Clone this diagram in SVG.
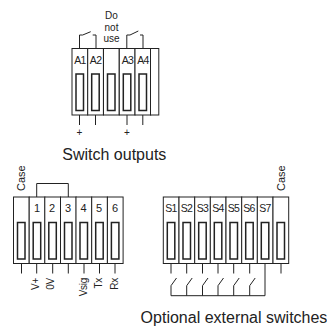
<svg xmlns="http://www.w3.org/2000/svg" width="327" height="328" viewBox="0 0 327 328">
<style>
.b{fill:#fff;stroke:#222;stroke-width:1}
.s{fill:none;stroke:#222;stroke-width:1.5}
.w{fill:none;stroke:#222;stroke-width:1}
text{font-family:"Liberation Sans",Arial,sans-serif;fill:#222;font-size:10px}
.m{text-anchor:middle}
.t{letter-spacing:-.6px;font-size:10.500px}
.n{font-size:11px}
.r{text-anchor:end;letter-spacing:-.3px}
.h{font-size:16px}
</style>
<defs>
<g id="c16"><rect class="b" x="0" y="0" width="15.700" height="66.500"/><rect class="s" x="4" y="25.500" width="7.500" height="36.500"/></g>
</defs>
<g id="connectors">
<path class="w" d="M79.500 115V125M95.500 115V125M127 115V125M142.800 115V125"/>
<path class="w" d="M79.500 48V35H82.700L90.700 31.700M92.700 35H96V48M126.800 48V35H130L138.300 31M140 35H143V48"/>
<path class="w" d="M36.700 197V183.500H68.300V197"/>
<path class="w" d="M21.500 263V273.500M36.700 263V273.500M52.700 263V273.500M68.300 263V273.500M84 263V273.500M99.500 263V273.500M115 263V273.500"/>
<path class="w" d="M171 263V273.500M186.700 263V273.500M202.500 263V273.500M218 263V273.500M233.700 263V273.500M249.700 263V273.500M281 263V273.500"/>
<path class="w" d="M171 295.700V285.700L176.500 278M186.700 295.700V285.700L192.200 278M202.500 295.700V285.700L208 278M218 295.700V285.700L223.500 278M233.700 295.700V285.700L239.200 278M249.700 295.700V285.700L255.200 278M171 295.700H265V263"/>
</g>
<g id="top-block">
<use href="#c16" x="72" y="48.500"/><use href="#c16" x="87.700" y="48.500"/><use href="#c16" x="103.500" y="48.500"/><use href="#c16" x="119.300" y="48.500"/><use href="#c16" x="135" y="48.500"/>
<rect class="b" x="150.500" y="48.500" width="8.300" height="66.500"/>
<text class="m t" x="80" y="64">A1</text><text class="m t" x="95.700" y="64">A2</text><text class="m t" x="127.500" y="64">A3</text><text class="m t" x="143" y="64">A4</text>
<text class="m" x="111.500" y="19">Do</text><text class="m" x="111.500" y="31">not</text><text class="m" x="111.500" y="42">use</text>
<text class="m" x="79.500" y="136">+</text><text class="m" x="126.800" y="136">+</text>
<text class="m h" x="114.300" y="160">Switch outputs</text>
</g>
<g id="left-block">
<use href="#c16" x="13.500" y="197"/><use href="#c16" x="29.200" y="197"/><use href="#c16" x="44.800" y="197"/><use href="#c16" x="60.500" y="197"/><use href="#c16" x="76" y="197"/><use href="#c16" x="91.700" y="197"/><use href="#c16" x="107.400" y="197"/>
<text class="m n" x="37" y="212">1</text><text class="m n" x="52" y="212">2</text><text class="m n" x="68" y="212">3</text><text class="m n" x="83.500" y="212">4</text><text class="m n" x="99" y="212">5</text><text class="m n" x="115" y="212">6</text>
<text class="n" transform="translate(25 191) rotate(-90)">Case</text>
<text class="r" transform="translate(39 278) rotate(-90)">V+</text>
<text class="r" transform="translate(54 278) rotate(-90)">0V</text>
<text class="r" transform="translate(87 278) rotate(-90)">Vsig</text>
<text class="r" transform="translate(102 278) rotate(-90)">Tx</text>
<text class="r" transform="translate(118 278) rotate(-90)">Rx</text>
</g>
<g id="right-block">
<use href="#c16" x="163.300" y="197"/><use href="#c16" x="179" y="197"/><use href="#c16" x="194.700" y="197"/><use href="#c16" x="210.300" y="197"/><use href="#c16" x="226" y="197"/><use href="#c16" x="241.700" y="197"/><use href="#c16" x="257.300" y="197"/><use href="#c16" x="273" y="197"/>
<text class="m t" x="171" y="212">S1</text><text class="m t" x="186.500" y="212">S2</text><text class="m t" x="202.500" y="212">S3</text><text class="m t" x="218" y="212">S4</text><text class="m t" x="233.500" y="212">S5</text><text class="m t" x="249" y="212">S6</text><text class="m t" x="265" y="212">S7</text>
<text class="n" transform="translate(285 191) rotate(-90)">Case</text>
<text class="m h" x="234" y="323">Optional external switches</text>
</g>
</svg>
